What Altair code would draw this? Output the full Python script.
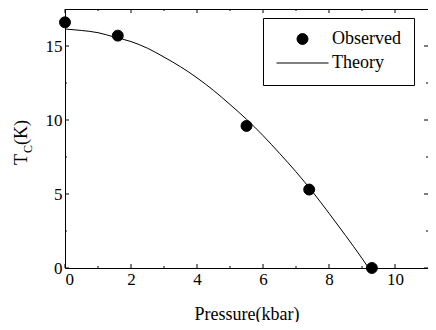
import altair as alt
import pandas as pd

# Observed data
obs_p = [0.0, 1.6, 5.5, 7.4, 9.3]
obs_t = [16.6, 15.7, 9.6, 5.3, 0.0]

# Theory curve
theory_p = [0.0, 0.5, 1.0, 1.5, 2.0, 2.5, 3.0, 3.5, 4.0, 4.5, 5.0, 5.5, 6.0, 6.5, 7.0, 7.5, 8.0, 8.5, 9.0, 9.2]
theory_t = [16.15, 16.05, 15.9, 15.6, 15.3, 14.85, 14.25, 13.6, 12.85, 12.0, 11.05, 10.05, 8.95, 7.75, 6.5, 5.15, 3.7, 2.2, 0.65, 0.0]

x_major = [0, 2, 4, 6, 8, 10]
x_minor = [1, 3, 5, 7, 9]
y_major = [0, 5, 10, 15]
y_minor = [2.5, 7.5, 12.5]

series = ["Observed", "Theory"]

W, H = 363, 259
FONT = "Liberation Serif"

xs = alt.Scale(domain=[0, 11], nice=False, zero=False)
ys = alt.Scale(domain=[0, 17.5], nice=False, zero=False)

obs_df = pd.DataFrame({"p": obs_p, "t": obs_t, "s": ["Observed"] * len(obs_p)})
th_df = pd.DataFrame({"p": theory_p, "t": theory_t})

xaxis = alt.Axis(values=x_major, ticks=False, domain=False, grid=False, labelFont=FONT,
                 labelFontSize=17, labelColor="black", labelPadding=3,
                 title="Pressure(kbar)", titleFont=FONT, titleFontSize=18,
                 titleFontWeight="normal", titleColor="black", titlePadding=18)
yaxis = alt.Axis(values=y_major, ticks=False, domain=False, grid=False, labelFont=FONT,
                 labelFontSize=17, labelColor="black", labelPadding=3, title="")

line = alt.Chart(th_df).mark_line(color="black", strokeWidth=1, interpolate="monotone").encode(
    x=alt.X("p:Q", scale=xs, axis=xaxis),
    y=alt.Y("t:Q", scale=ys, axis=yaxis),
)

points = alt.Chart(obs_df).mark_point(filled=True, fill="black", stroke="black",
                                      strokeWidth=1, opacity=1).encode(
    x=alt.X("p:Q", scale=xs),
    y=alt.Y("t:Q", scale=ys),
    shape=alt.Shape("s:N", scale=alt.Scale(domain=series, range=["circle", "stroke"]),
                    legend=alt.Legend(title=None, orient="none", legendX=198, legendY=9,
                                      strokeColor="black", fillColor="white", padding=13,
                                      labelFont=FONT, labelFontSize=18, labelColor="black",
                                      labelOffset=3, symbolFillColor="black",
                                      symbolStrokeColor="black", symbolStrokeWidth=1,
                                      clipHeight=16, rowPadding=6)),
    size=alt.Size("s:N", scale=alt.Scale(domain=series, range=[120, 2704])),
)

def xticks(vals, length):
    d = pd.DataFrame({"v": vals})
    bot = alt.Chart(d).mark_rule(color="black", strokeWidth=1).encode(
        x=alt.X("v:Q", scale=xs), y=alt.value(H), y2=alt.value(H - length))
    top = alt.Chart(d).mark_rule(color="black", strokeWidth=1).encode(
        x=alt.X("v:Q", scale=xs), y=alt.value(0), y2=alt.value(length))
    return [bot, top]

def yticks(vals, length):
    d = pd.DataFrame({"v": vals})
    left = alt.Chart(d).mark_rule(color="black", strokeWidth=1).encode(
        y=alt.Y("v:Q", scale=ys), x=alt.value(0), x2=alt.value(length))
    right = alt.Chart(d).mark_rule(color="black", strokeWidth=1).encode(
        y=alt.Y("v:Q", scale=ys), x=alt.value(W), x2=alt.value(W - length))
    return [left, right]

ticks = xticks(x_major, 4) + xticks(x_minor, 2) + yticks(y_major, 4) + yticks(y_minor, 2)

one = pd.DataFrame({"a": [0]})
t_main = alt.Chart(one).mark_text(font=FONT, fontSize=18, angle=270, align="left",
                                  baseline="alphabetic", color="black").encode(
    x=alt.value(-38), y=alt.value(156), text=alt.value("T"))
t_sub = alt.Chart(one).mark_text(font=FONT, fontSize=12, angle=270, align="left",
                                 baseline="alphabetic", color="black").encode(
    x=alt.value(-33), y=alt.value(144), text=alt.value("C"))
t_k = alt.Chart(one).mark_text(font=FONT, fontSize=18, angle=270, align="left",
                               baseline="alphabetic", color="black").encode(
    x=alt.value(-38), y=alt.value(136), text=alt.value("(K)"))

chart = alt.layer(line, points, *ticks, t_main, t_sub, t_k).properties(
    width=W, height=H,
    background="white",
    autosize=alt.AutoSizeParams(type="none"),
    padding={"left": 57, "top": 1, "right": 0, "bottom": 54},
).configure_view(stroke="black", strokeWidth=1).configure_axis(
    labelFont=FONT, titleFont=FONT
).configure_legend(labelFont=FONT)

chart.save("out.html", embed_options={"renderer": "svg", "actions": False})
